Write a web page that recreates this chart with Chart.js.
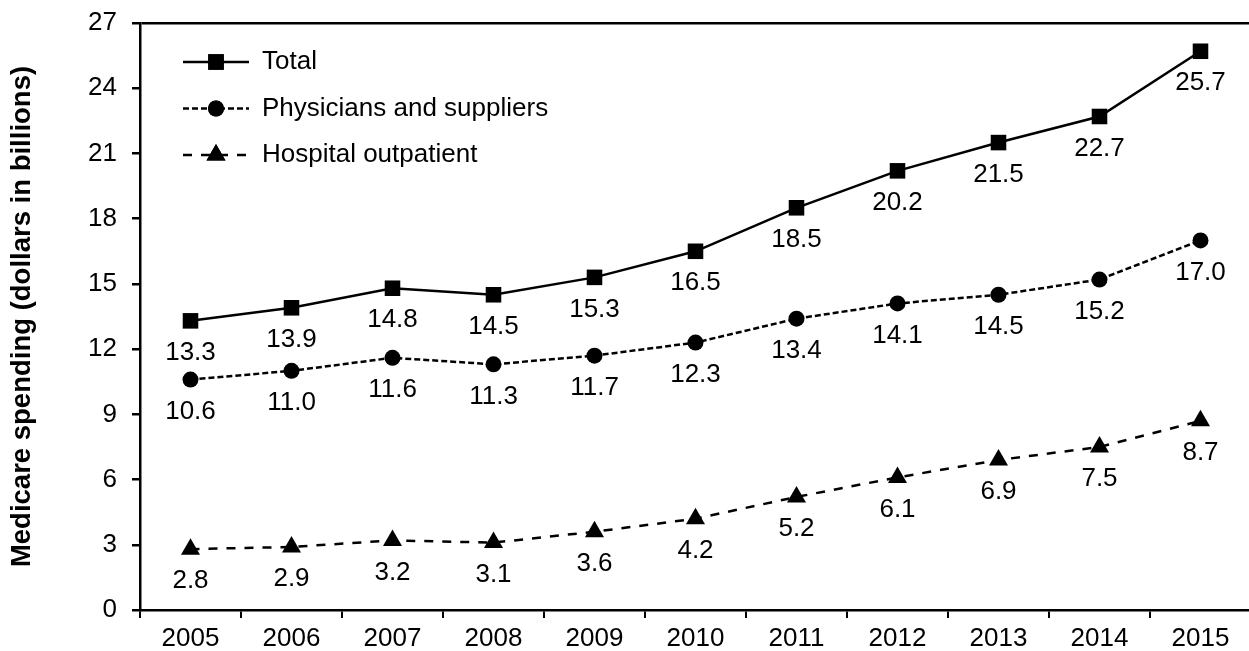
<!DOCTYPE html>
<html>
<head>
<meta charset="utf-8">
<script src="https://cdn.jsdelivr.net/npm/chart.js@4"></script>
<style>
  html, body { margin: 0; padding: 0; background: #fff; overflow: hidden; }
  #wrap { width: 1262px; height: 651px; }
</style>
</head>
<body>
<div id="wrap"><canvas id="myChart"></canvas></div>
<script>
// medicare spending chart

var years = ['2005', '2006', '2007', '2008', '2009', '2010', '2011', '2012', '2013', '2014', '2015'];
var total = [13.3, 13.9, 14.8, 14.5, 15.3, 16.5, 18.5, 20.2, 21.5, 22.7, 25.7];
var physicians = [10.6, 11.0, 11.6, 11.3, 11.7, 12.3, 13.4, 14.1, 14.5, 15.2, 17.0];
var hospital = [2.8, 2.9, 3.2, 3.1, 3.6, 4.2, 5.2, 6.1, 6.9, 7.5, 8.7];
var seriesNames = ['Total', 'Physicians and suppliers', 'Hospital outpatient'];

var FONT = '"Liberation Sans", Arial, sans-serif';

// value labels under each point
var valueLabels = {
    id: 'valueLabels',
    afterDatasetsDraw: function (chart) {
        var ctx = chart.ctx;
        ctx.save();
        ctx.font = '26px ' + FONT;
        ctx.fillStyle = '#000';
        ctx.textAlign = 'center';
        ctx.textBaseline = 'middle';
        chart.data.datasets.forEach(function (ds, i) {
            var meta = chart.getDatasetMeta(i);
            meta.data.forEach(function (pt, j) {
                ctx.fillText(ds.data[j].toFixed(1), pt.x, pt.y + 32);
            });
        });
        ctx.restore();
    }
};

// legend with line + marker in the middle
var lineLegend = {
    id: 'lineLegend',
    afterDraw: function (chart) {
        var ctx = chart.ctx;
        var a = chart.chartArea;
        ctx.save();
        chart.data.datasets.forEach(function (ds, i) {
            var y = a.top + 39 + i * 46.5;
            var x0 = a.left + 43, x1 = a.left + 109;
            ctx.strokeStyle = '#000';
            ctx.lineWidth = ds.borderWidth;
            ctx.setLineDash(ds.borderDash || []);
            ctx.beginPath();
            ctx.moveTo(x0, y);
            ctx.lineTo(x1, y);
            ctx.stroke();
            ctx.setLineDash([]);
            ctx.fillStyle = '#000';
            Chart.helpers.drawPoint(ctx, {
                pointStyle: ds.pointStyle,
                radius: ds.pointRadius,
                rotation: 0,
                borderWidth: 0
            }, (x0 + x1) / 2, y);
            ctx.fill();
            ctx.font = '26px ' + FONT;
            ctx.textAlign = 'left';
            ctx.textBaseline = 'middle';
            ctx.fillText(ds.label, x1 + 13, y);
        });
        ctx.restore();
    }
};

new Chart('myChart', {
    type: 'line',
    data: {
        labels: years,
        datasets: [{
            label: seriesNames[0],
            data: total,
            borderColor: '#000',
            backgroundColor: '#000',
            borderWidth: 2.5,
            pointStyle: 'rect',
            pointRadius: 11,
            pointBorderWidth: 0,
            fill: false
        }, {
            label: seriesNames[1],
            data: physicians,
            borderColor: '#000',
            backgroundColor: '#000',
            borderWidth: 2.5,
            borderDash: [6, 3],
            pointStyle: 'circle',
            pointRadius: 8,
            pointBorderWidth: 0,
            fill: false
        }, {
            label: seriesNames[2],
            data: hospital,
            borderColor: '#000',
            backgroundColor: '#000',
            borderWidth: 2.5,
            borderDash: [9, 9],
            pointStyle: 'triangle',
            pointRadius: 11,
            pointBorderWidth: 0,
            fill: false
        }]
    },
    options: {
        responsive: true,
        maintainAspectRatio: false,
        animation: false,
        layout: {
            padding: { top: 23, right: 3, left: 0, bottom: 0 }
        },
        plugins: {
            legend: { display: false },
            tooltip: { enabled: false }
        },
        scales: {
            x: {
                offset: true,
                grid: {
                    offset: true,
                    color: 'transparent',
                    tickColor: '#000',
                    tickLength: 8,
                    lineWidth: 2
                },
                border: { display: true, color: '#000', width: 2.5 },
                ticks: {
                    color: '#000',
                    font: { family: FONT, size: 26 },
                    padding: 5,
                    maxRotation: 0
                },
                afterFit: function (scale) { scale.height = 41; }
            },
            y: {
                min: 0,
                max: 27,
                ticks: {
                    stepSize: 3,
                    color: '#000',
                    font: { family: FONT, size: 26 },
                    padding: 15
                },
                grid: {
                    color: function (ctx) { return ctx.tick && ctx.tick.value === 27 ? '#000' : 'transparent'; },
                    tickColor: '#000',
                    tickLength: 8,
                    lineWidth: 2.5
                },
                border: { display: true, color: '#000', width: 2.5 },
                title: {
                    display: true,
                    text: 'Medicare spending (dollars in billions)',
                    color: '#000',
                    font: { family: FONT, size: 27.5, weight: 'bold' },
                    padding: { top: 6, bottom: 0 }
                },
                afterFit: function (scale) {
                    scale.width = 140;
                    scale.paddingTop = 0;
                    scale.paddingBottom = 0;
                }
            }
        }
    },
    plugins: [valueLabels, lineLegend]
});
</script>
</body>
</html>
